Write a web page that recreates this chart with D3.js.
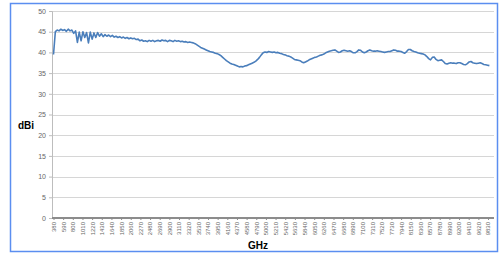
<!DOCTYPE html>
<html>
<head>
<meta charset="utf-8">
<script src="https://cdn.jsdelivr.net/npm/d3@7"></script>
<style>
  body { margin: 0; background: #fff; }
  svg { display: block; font-family: "Liberation Sans", Arial, sans-serif; }
</style>
</head>
<body>
<div id="chart"></div>
<script>
// Frequency sweep (MHz), one sample every 40 MHz starting at 380
const freqStart = 380;
const freqStep = 40;

// Gain readings (dBi)
const gain = [
  39.5, 45.0, 45.4, 45.2, 45.6, 45.3, 45.5, 45.1, 45.6, 45.2,
  45.4, 44.6, 45.2, 42.4, 44.9, 42.8, 45.0, 43.6, 44.8, 42.3,
  44.9, 43.2, 44.7, 43.6, 44.8, 43.9, 44.5, 43.8, 44.3, 43.9,
  44.2, 43.8, 44.1, 43.7, 43.9, 43.6, 43.8, 43.5, 43.7, 43.4,
  43.6, 43.3, 43.5, 43.3, 43.4, 43.1, 43.2, 42.8, 43.0, 42.7,
  42.8, 42.6, 42.9, 42.7, 42.9, 42.6, 42.8, 42.9, 42.7, 43.0,
  42.8, 42.9, 42.6, 42.9, 42.8, 42.6, 42.9, 42.7, 42.8, 42.6,
  42.7, 42.5, 42.6, 42.4, 42.5, 42.4, 42.3, 42.1, 41.8, 41.5,
  41.2, 41.0, 40.8, 40.6, 40.4, 40.2, 40.1, 40.0, 39.8, 39.7,
  39.5, 39.2, 38.8, 38.4, 38.0, 37.7, 37.4, 37.2, 37.1, 36.9,
  36.7, 36.5, 36.6, 36.5, 36.7, 36.8, 37.0, 37.2, 37.4, 37.6,
  37.9, 38.3, 38.8, 39.4, 39.9, 40.1, 40.0, 40.2, 40.1, 40.0,
  40.1, 39.9, 40.0, 39.8, 39.7, 39.5, 39.4, 39.2, 39.1, 38.9,
  38.6, 38.3, 38.2, 38.1, 38.0, 37.7, 37.5, 37.7, 37.9, 38.2,
  38.4, 38.6, 38.8, 38.9, 39.1, 39.3, 39.4, 39.6, 39.9, 40.1,
  40.3, 40.4, 40.5, 40.6, 40.3, 40.0, 40.1, 40.4, 40.5, 40.4,
  40.3, 40.4, 40.2, 39.9, 39.9, 40.2, 40.6, 40.5, 40.1, 39.9,
  40.1, 40.4, 40.6, 40.4, 40.3, 40.3, 40.4, 40.3, 40.2, 40.1,
  40.0, 40.1, 40.2, 40.2, 40.4, 40.6, 40.5, 40.3, 40.3, 40.2,
  40.0, 39.8, 40.2, 40.7, 40.7, 40.4, 40.2, 40.1, 39.9, 39.8,
  39.7, 39.6, 39.4, 39.0, 38.5, 38.2, 38.8, 38.9, 38.3, 38.0,
  38.1, 38.2, 37.8, 37.3, 37.2, 37.4, 37.5, 37.4, 37.4, 37.3,
  37.5, 37.5, 37.3, 37.1, 37.0, 37.3, 37.7, 37.8, 37.5, 37.4,
  37.3, 37.4, 37.5, 37.3, 37.1, 37.0, 36.9, 36.8
];

// Category labels shown on the x axis
const xTickLabels = [
  380, 590, 800, 1010, 1220, 1430, 1640, 1850, 2060, 2270,
  2480, 2690, 2900, 3110, 3320, 3530, 3740, 3950, 4160, 4370,
  4580, 4790, 5000, 5210, 5420, 5630, 5840, 6050, 6260, 6470,
  6680, 6890, 7100, 7310, 7520, 7730, 7940, 8150, 8360, 8570,
  8780, 8990, 9200, 9410, 9620, 9830
];
const yTicks = [0, 5, 10, 15, 20, 25, 30, 35, 40, 45, 50];

const width = 501;
const height = 255;
const plot = {left: 52, right: 494, top: 11, bottom: 218};

const svg = d3.select('#chart').append('svg')
  .attr('width', width)
  .attr('height', height);

// Outer frame
svg.append('rect')
  .attr('x', 10.5).attr('y', 3.5)
  .attr('width', 487).attr('height', 248)
  .attr('fill', '#fff')
  .attr('stroke', '#5b8ef0')
  .attr('stroke-width', 1.5);

const xScale = d3.scaleLinear()
  .domain([380, 9830])
  .range([53.5, 488]);

const yScale = d3.scaleLinear()
  .domain([0, 50])
  .range([plot.bottom, plot.top]);

// Horizontal gridlines
svg.append('g')
  .selectAll('line')
  .data(yTicks.filter(d => d > 0))
  .enter()
  .append('line')
    .attr('x1', plot.left)
    .attr('x2', plot.right)
    .attr('y1', d => Math.round(yScale(d)) + 0.5)
    .attr('y2', d => Math.round(yScale(d)) + 0.5)
    .style('stroke', '#d6d6d6')
    .style('stroke-width', 1);

// Y axis
const yAxis = svg.append('g')
  .attr('transform', 'translate(' + plot.left + ',0)')
  .call(d3.axisLeft(yScale).tickValues(yTicks).tickSize(3).tickPadding(3));
yAxis.select('.domain').attr('stroke', '#bdbdbd');
yAxis.selectAll('.tick line').attr('stroke', '#bdbdbd');
yAxis.selectAll('.tick text')
  .attr('fill', '#666')
  .style('font-size', '7px')
  .style('font-family', '"Liberation Sans", Arial, sans-serif');

// X axis (category labels, rotated)
const xAxis = svg.append('g')
  .attr('transform', 'translate(0,' + plot.bottom + ')')
  .call(d3.axisBottom(xScale).tickValues(xTickLabels).tickSize(2).tickSizeOuter(0).tickFormat(d => d));
xAxis.select('.domain')
  .attr('d', 'M' + plot.left + ',0H' + plot.right)
  .attr('stroke', '#8c8c8c')
  .attr('stroke-width', 2);
xAxis.selectAll('.tick line').attr('stroke', '#8c8c8c');
xAxis.selectAll('.tick text')
  .attr('fill', '#666')
  .style('font-size', '6px')
  .style('font-family', '"Liberation Sans", Arial, sans-serif')
  .attr('text-anchor', 'end')
  .attr('transform', 'rotate(-90)')
  .attr('x', -4)
  .attr('y', 0)
  .attr('dy', '0.32em');

// Gain trace
const line = d3.line()
  .x((d, i) => xScale(freqStart + i * freqStep))
  .y(d => yScale(d));

svg.append('path')
  .datum(gain)
  .attr('d', line)
  .style('fill', 'none')
  .style('stroke', '#4a7ebb')
  .style('stroke-width', 1.6)
  .style('stroke-linejoin', 'round');

// Axis titles
svg.append('text')
  .attr('x', 26)
  .attr('y', 129)
  .attr('text-anchor', 'middle')
  .style('font-size', '10px')
  .style('font-weight', 'bold')
  .text('dBi');

svg.append('text')
  .attr('x', 258)
  .attr('y', 249)
  .attr('text-anchor', 'middle')
  .style('font-size', '10px')
  .style('font-weight', 'bold')
  .text('GHz');
</script>
</body>
</html>
